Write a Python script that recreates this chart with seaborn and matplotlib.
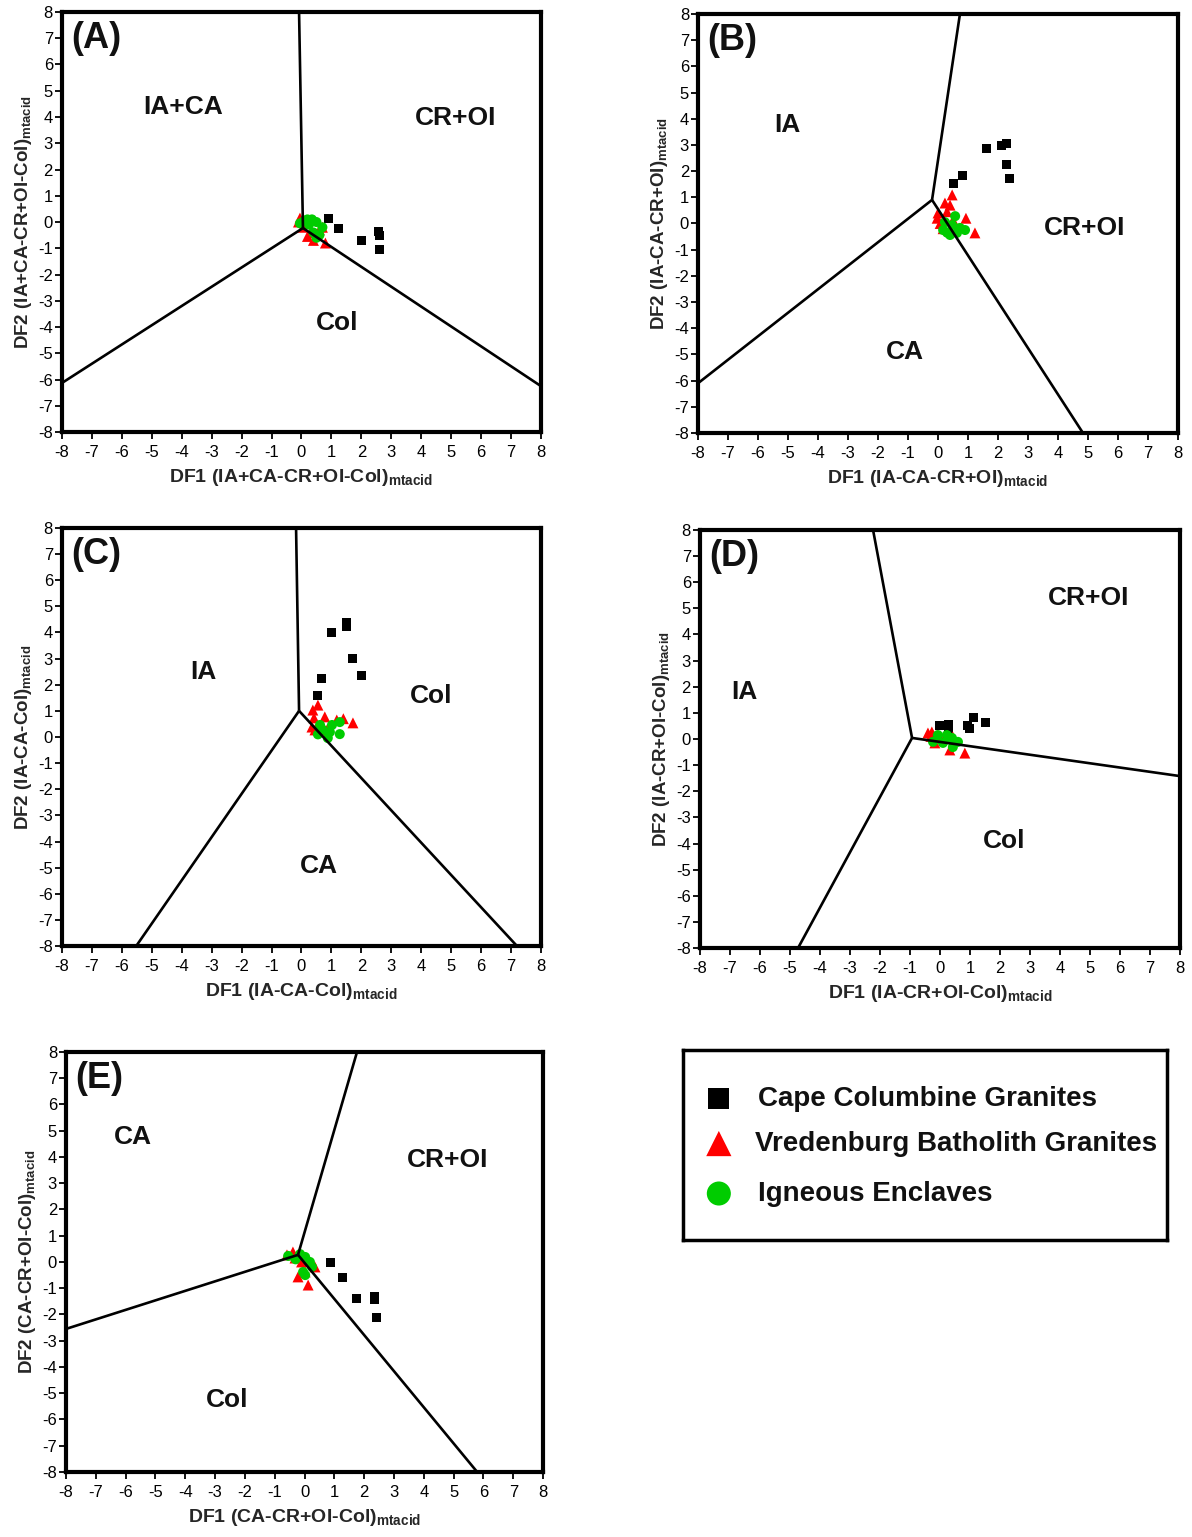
import matplotlib
matplotlib.use("Agg")
import matplotlib.pyplot as plt
import numpy as np
import pandas as pd
import seaborn as sns

# ---------------------------------------------------------------------------
# Discriminant-function scores (DF1, DF2) for each diagram
# ---------------------------------------------------------------------------
groups = ["Cape Columbine Granites", "Vredenburg Batholith Granites", "Igneous Enclaves"]

# (A) IA+CA - CR+OI - Col
a_ccg_x = [0.89, 1.25, 2.02, 2.59, 2.62, 2.62]
a_ccg_y = [0.15, -0.23, -0.69, -0.38, -0.53, -1.03]
a_vbg_x = [-0.1, 0.05, -0.05, 0.4, 0.8, 0.6, 0.3, 0.7, 0.2]
a_vbg_y = [0.0, -0.2, 0.15, -0.7, -0.8, -0.3, -0.4, -0.2, -0.55]
a_enc_x = [0.2, 0.35, 0.5, 0.7, 0.4, 0.5, -0.05, 0.25, 0.6, 0.1]
a_enc_y = [0.1, 0.1, 0.0, -0.2, -0.4, -0.6, -0.05, -0.1, -0.5, 0.05]

# (B) IA - CA - CR+OI
b_ccg_x = [1.6, 2.1, 2.27, 2.27, 2.37, 0.83, 0.53]
b_ccg_y = [2.88, 2.99, 3.07, 2.27, 1.7, 1.85, 1.51]
b_vbg_x = [0.47, 0.23, 0.4, 0.0, -0.03, 0.5, 0.93, 1.23, 0.07, 0.17, 0.3]
b_vbg_y = [1.09, 0.78, 0.7, 0.4, 0.2, 0.13, 0.2, -0.36, 0.0, -0.2, 0.45]
b_enc_x = [0.57, 0.23, 0.17, 0.4, 0.73, 0.9, 0.63, 0.47, 0.3]
b_enc_y = [0.28, 0.05, -0.25, -0.44, -0.17, -0.25, -0.36, -0.06, -0.35]

# (C) IA - CA - Col
c_ccg_x = [1.52, 1.49, 1.02, 1.72, 2.02, 0.68, 0.52]
c_ccg_y = [4.4, 4.21, 3.98, 2.99, 2.37, 2.22, 1.57]
c_vbg_x = [0.55, 0.38, 0.42, 0.78, 1.18, 1.72, 0.45, 0.85, 0.35, 1.4]
c_vbg_y = [1.22, 1.03, 0.73, 0.77, 0.65, 0.54, 0.27, 0.27, 0.38, 0.7]
c_enc_x = [0.62, 1.28, 0.72, 0.95, 1.28, 0.88, 0.55, 1.02]
c_enc_y = [0.46, 0.57, 0.27, 0.19, 0.11, -0.04, 0.1, 0.46]

# (D) IA - CR+OI - Col
d_ccg_x = [-0.03, 0.27, 0.27, 0.93, 0.97, 1.13, 1.53]
d_ccg_y = [0.5, 0.57, 0.42, 0.5, 0.42, 0.84, 0.65]
d_vbg_x = [-0.4, -0.27, -0.17, 0.33, 0.83, 0.43, 0.0, -0.3]
d_vbg_y = [0.23, 0.27, -0.15, -0.42, -0.54, 0.08, 0.08, 0.1]
d_enc_x = [-0.07, 0.23, 0.4, 0.6, 0.43, 0.1, -0.23, 0.3]
d_enc_y = [0.15, 0.15, 0.04, -0.11, -0.31, -0.15, -0.11, 0.0]

# (E) CA - CR+OI - Col
e_ccg_x = [0.86, 1.26, 1.73, 2.33, 2.4, 2.35]
e_ccg_y = [-0.03, -0.6, -1.41, -1.33, -2.1, -1.42]
e_vbg_x = [-0.59, -0.39, -0.32, -0.22, 0.12, 0.35, 0.02, -0.1]
e_vbg_y = [0.27, 0.38, 0.15, -0.57, -0.88, -0.19, -0.38, 0.0]
e_enc_x = [-0.55, 0.02, 0.18, 0.25, -0.05, 0.02, -0.15, -0.3]
e_enc_y = [0.23, 0.19, 0.0, -0.19, -0.38, -0.5, 0.3, 0.1]

# Field boundaries: triple junction and the three outer end points
a_junction = (0.05, -0.23)
a_ends = [(-0.08, 8.0), (-8.0, -6.13), (8.0, -6.25)]
b_junction = (-0.2, 0.9)
b_ends = [(0.73, 8.0), (-8.0, -6.1), (4.83, -8.0)]
c_junction = (-0.08, 1.0)
c_ends = [(-0.18, 8.0), (-5.52, -8.0), (7.2, -8.0)]
d_junction = (-0.93, 0.04)
d_ends = [(-2.23, 8.0), (-4.73, -8.0), (8.0, -1.42)]
e_junction = (-0.22, 0.27)
e_ends = [(1.76, 8.0), (-8.0, -2.55), (5.79, -8.0)]

# Field names and their positions
a_fields = [("IA+CA", -3.96, 4.38), ("CR+OI", 5.16, 3.96), ("Col", 1.19, -3.85)]
b_fields = [("IA", -5.03, 3.76), ("CR+OI", 4.87, -0.17), ("CA", -1.1, -4.9)]
c_fields = [("IA", -3.29, 2.49), ("Col", 4.33, 1.57), ("CA", 0.58, -4.94)]
d_fields = [("CR+OI", 4.97, 5.4), ("IA", -6.53, 1.8), ("Col", 2.13, -3.9)]
e_fields = [("CA", -5.75, 4.76), ("CR+OI", 4.78, 3.89), ("Col", -2.6, -5.26)]

x_labels = ["DF1 (IA+CA-CR+OI-Col)", "DF1 (IA-CA-CR+OI)", "DF1 (IA-CA-Col)",
            "DF1 (IA-CR+OI-Col)", "DF1 (CA-CR+OI-Col)"]
y_labels = ["DF2 (IA+CA-CR+OI-Col)", "DF2 (IA-CA-CR+OI)", "DF2 (IA-CA-Col)",
            "DF2 (IA-CR+OI-Col)", "DF2 (CA-CR+OI-Col)"]
panel_tags = ["(A)", "(B)", "(C)", "(D)", "(E)"]
ticks = list(range(-8, 9))

# ---------------------------------------------------------------------------
sns.set_style("white")
plt.rcParams["font.family"] = ["Liberation Sans", "DejaVu Sans"]
plt.rcParams["mathtext.fontset"] = "custom"
plt.rcParams["mathtext.rm"] = "Liberation Sans"
plt.rcParams["mathtext.bf"] = "Liberation Sans:bold"
plt.rcParams["axes.unicode_minus"] = False

palette = {groups[0]: "#000000", groups[1]: "#ff0000", groups[2]: "#00cc00"}
markers = {groups[0]: "s", groups[1]: "^", groups[2]: "o"}
sizes = {groups[0]: 42, groups[1]: 62, groups[2]: 52}

panels = [
    (a_ccg_x, a_ccg_y, a_vbg_x, a_vbg_y, a_enc_x, a_enc_y, a_junction, a_ends, a_fields),
    (b_ccg_x, b_ccg_y, b_vbg_x, b_vbg_y, b_enc_x, b_enc_y, b_junction, b_ends, b_fields),
    (c_ccg_x, c_ccg_y, c_vbg_x, c_vbg_y, c_enc_x, c_enc_y, c_junction, c_ends, c_fields),
    (d_ccg_x, d_ccg_y, d_vbg_x, d_vbg_y, d_enc_x, d_enc_y, d_junction, d_ends, d_fields),
    (e_ccg_x, e_ccg_y, e_vbg_x, e_vbg_y, e_enc_x, e_enc_y, e_junction, e_ends, e_fields),
]

# axes rectangles [left, bottom, width, height] in figure fractions
rects = [
    [0.0520, 0.7189, 0.4018, 0.2733],
    [0.5856, 0.7183, 0.4027, 0.2726],
    [0.0520, 0.3845, 0.4018, 0.2720],
    [0.5872, 0.3832, 0.4027, 0.2720],
    [0.0554, 0.0423, 0.4002, 0.2733],
]

fig = plt.figure(figsize=(11.92, 15.37), dpi=100)

for i, (pan, rect) in enumerate(zip(panels, rects)):
    cx, cy, vx, vy, ex, ey, junc, ends, fields = pan
    ax = fig.add_axes(rect)
    df = pd.DataFrame({
        "DF1": list(cx) + list(vx) + list(ex),
        "DF2": list(cy) + list(vy) + list(ey),
        "group": [groups[0]] * len(cx) + [groups[1]] * len(vx) + [groups[2]] * len(ex),
    })
    for g in groups:
        sub = df[df["group"] == g]
        sns.scatterplot(data=sub, x="DF1", y="DF2", color=palette[g], marker=markers[g],
                        s=sizes[g], edgecolor="none", linewidth=0, legend=False,
                        ax=ax, zorder=2)
    for (x1, y1) in ends:
        ax.plot([junc[0], x1], [junc[1], y1], color="black", lw=1.9, zorder=3,
                solid_capstyle="butt")
    for name, fx, fy in fields:
        ax.text(fx, fy, name, ha="center", va="center", fontsize=19,
                fontweight="bold", color="#111111")
    ax.text(0.02, 0.978, panel_tags[i], transform=ax.transAxes, ha="left", va="top",
            fontsize=26, fontweight="bold", color="#111111")

    ax.set_xlim(-8, 8)
    ax.set_ylim(-8, 8)
    ax.set_xticks(ticks)
    ax.set_yticks(ticks)
    ax.tick_params(axis="both", which="major", direction="out", length=5, width=1.3,
                   labelsize=12, colors="black", bottom=True, left=True)
    ax.tick_params(axis="x", pad=4.5)
    ax.tick_params(axis="y", pad=1.5)
    for sp in ax.spines.values():
        sp.set_linewidth(3.0)
        sp.set_color("black")
    ax.set_xlabel(x_labels[i] + r"$_{\mathbf{mtacid}}$", fontsize=14,
                  fontweight="bold", labelpad=5)
    ax.set_ylabel(y_labels[i] + r"$_{\mathbf{mtacid}}$", fontsize=13.5,
                  fontweight="bold", labelpad=3)

# Legend box
lax = fig.add_axes([0.573, 0.1932, 0.406, 0.1236])
lax.set_xlim(0, 1)
lax.set_ylim(0, 1)
lax.set_xticks([])
lax.set_yticks([])
for sp in lax.spines.values():
    sp.set_linewidth(2.5)
    sp.set_color("black")
leg_rows = [0.745, 0.508, 0.245]
leg_sizes = [230, 330, 300]
leg_text_x = [0.155, 0.148, 0.155]
for g, yy, ss, tx in zip(groups, leg_rows, leg_sizes, leg_text_x):
    lax.scatter([0.074], [yy], marker=markers[g], s=ss, color=palette[g], edgecolor="none")
    lax.text(tx, yy, g, ha="left", va="center", fontsize=20, fontweight="bold",
             color="#111111")

fig.savefig("out.png", dpi=100)
